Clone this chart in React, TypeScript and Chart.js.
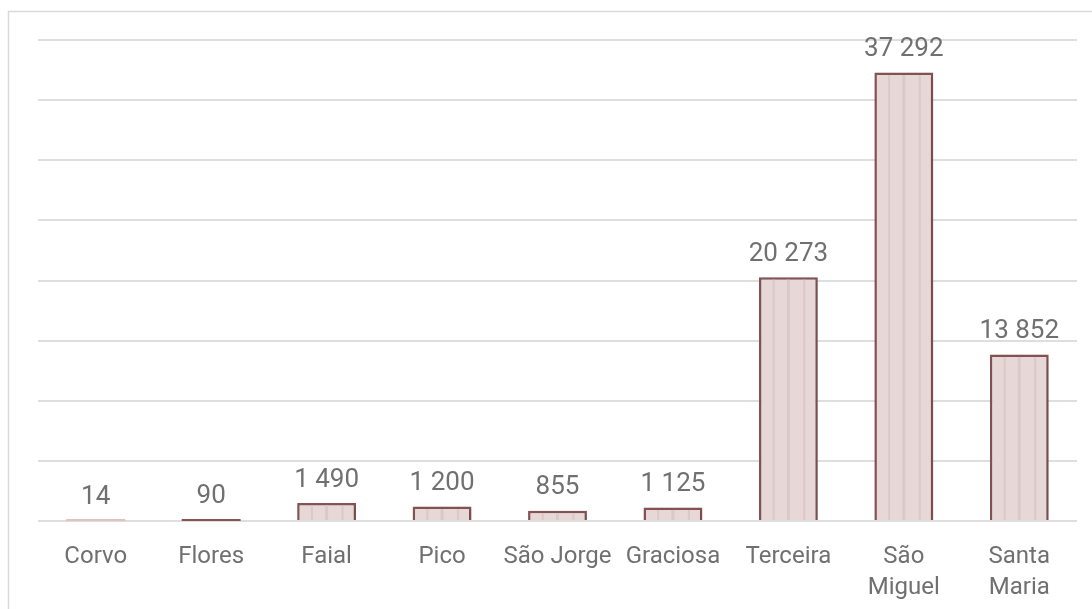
import React, { useEffect, useRef } from "react";
import { Chart, registerables } from "chart.js";

Chart.register(...registerables);

const categories: (string | string[])[] = [
  "Corvo",
  "Flores",
  "Faial",
  "Pico",
  "São Jorge",
  "Graciosa",
  "Terceira",
  ["São", "Miguel"],
  ["Santa", "Maria"],
];
const values: number[] = [14, 90, 1490, 1200, 855, 1125, 20273, 37292, 13852];
const yMax = 40000;
const yStep = 5000;

const FONT = "Roboto, 'Open Sans', 'Liberation Sans', sans-serif";
const TEXT = "#707070";
const FILL = "#e7d7d7";
const STRIPE = "#dbc8c8";
const BORDER = "#875454";
const GRID = "#dedede";

function fmt(v: number): string {
  const s = String(Math.round(v));
  return s.replace(/\B(?=(\d{3})+(?!\d))/g, " ");
}

const decorPlugin = {
  id: "decor",
  beforeDraw(chart: any) {
    const ctx = chart.ctx;
    ctx.save();
    ctx.strokeStyle = "#d9d9d9";
    ctx.lineWidth = 1.5;
    ctx.strokeRect(8.5, 11.5, 3000, 3000);
    ctx.restore();
  },
  beforeDatasetsDraw(chart: any) {
    const ctx = chart.ctx;
    ctx.save();
    ctx.shadowColor = "rgba(0,0,0,0.18)";
    ctx.shadowBlur = 4;
    ctx.shadowOffsetX = 1;
    ctx.shadowOffsetY = 1;
  },
  afterDatasetsDraw(chart: any) {
    const ctx = chart.ctx;
    ctx.restore();
    const yScale = chart.scales.y;
    const zero = yScale.getPixelForValue(0);
    const meta = chart.getDatasetMeta(0);
    const data = chart.data.datasets[0].data as number[];
    meta.data.forEach((bar: any, i: number) => {
      const { x, y, base, width } = bar.getProps(["x", "y", "base", "width"], true);
      const left = x - width / 2;
      const top = y + 2.5;
      const h = base - top;
      const trueH = zero - yScale.getPixelForValue(data[i]);
      if (h > 2) {
        ctx.save();
        ctx.fillStyle = STRIPE;
        [0.25, 0.5, 0.77].forEach((f, k) => {
          const w = k === 1 ? 3 : 2;
          ctx.fillRect(left + width * f - w / 2, top, w, h);
        });
        ctx.restore();
      } else {
        ctx.save();
        ctx.fillStyle = trueH >= 0.5 ? BORDER : "#dcc4c4";
        ctx.fillRect(left, zero - 2, width, 2);
        ctx.restore();
      }
      ctx.save();
      ctx.fillStyle = TEXT;
      ctx.font = `26px ${FONT}`;
      ctx.textAlign = "center";
      ctx.textBaseline = "middle";
      ctx.fillText(fmt(data[i]), x, y - 23);
      ctx.restore();
    });
  },
};

export default function App() {
  const ref = useRef<HTMLCanvasElement | null>(null);
  useEffect(() => {
    if (!ref.current) return;
    const chart = new Chart(ref.current, {
      type: "bar",
      data: {
        labels: categories,
        datasets: [
          {
            data: values,
            backgroundColor: FILL,
            borderColor: BORDER,
            borderWidth: 2.5,
            barPercentage: 1,
            categoryPercentage: 0.51,
          },
        ],
      },
      options: {
        responsive: false,
        animation: false,
        layout: { padding: { left: 38, right: 15, top: 40, bottom: 0 } },
        plugins: {
          legend: { display: false },
          tooltip: { enabled: false },
        },
        scales: {
          x: {
            grid: { display: false, drawTicks: false },
            border: { display: false },
            ticks: {
              color: TEXT,
              padding: 20,
              font: { family: FONT, size: 24, lineHeight: 1.3 },
              maxRotation: 0,
              autoSkip: false,
            },
            afterFit(scale: any) {
              scale.height = 88;
            },
          },
          y: {
            min: 0,
            max: yMax,
            ticks: { display: false, stepSize: yStep },
            grid: { color: GRID, lineWidth: 2, drawTicks: false },
            border: { display: false },
            afterFit(scale: any) {
              scale.width = 0;
            },
          },
        },
      },
      plugins: [decorPlugin],
    });
    return () => chart.destroy();
  }, []);
  return (
    <canvas
      ref={ref}
      width={1092}
      height={609}
      style={{ position: "absolute", left: 0, top: 0, width: 1092, height: 609 }}
    />
  );
}
